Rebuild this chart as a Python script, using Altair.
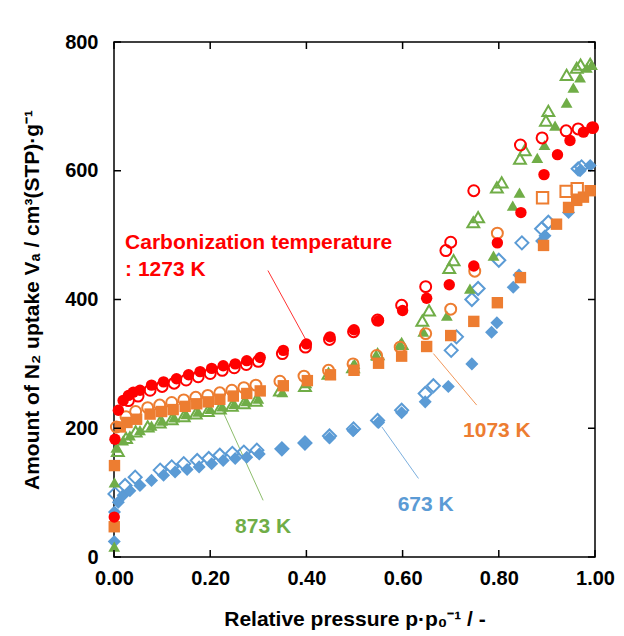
import altair as alt
import pandas as pd

# ---------------- data ----------------
# 1273 K
x_1273_ads = [0.0005, 0.002, 0.009, 0.019, 0.030, 0.040, 0.054, 0.078, 0.103, 0.13, 0.155, 0.179, 0.203, 0.227, 0.252, 0.276, 0.304, 0.352, 0.400, 0.449, 0.499, 0.55, 0.60, 0.65, 0.697, 0.748, 0.797, 0.846, 0.894, 0.922, 0.948, 0.976, 0.995]
y_1273_ads = [62, 183, 228, 243, 251, 256, 259, 267, 272, 277, 283, 288, 293, 297, 300, 305, 310, 321, 331, 342, 353, 367, 383, 402, 423, 452, 488, 535, 594, 625, 647, 660, 667]
x_1273_des = [0.995, 0.965, 0.94, 0.89, 0.845, 0.748, 0.70, 0.69, 0.648, 0.598, 0.548, 0.498, 0.448, 0.398, 0.35, 0.30, 0.275, 0.25, 0.225, 0.20, 0.175, 0.15, 0.125, 0.10, 0.075, 0.05, 0.03]
y_1273_des = [667, 665, 662, 651, 640, 569, 489, 476, 420, 391, 368, 350, 338, 326, 316, 304, 299, 294, 290, 285, 280, 275, 270, 265, 259, 250, 243]

# 1073 K
x_1073_ads = [0.0005, 0.001, 0.013, 0.027, 0.047, 0.075, 0.099, 0.123, 0.148, 0.172, 0.196, 0.22, 0.248, 0.276, 0.304, 0.352, 0.402, 0.45, 0.499, 0.55, 0.598, 0.65, 0.70, 0.748, 0.797, 0.845, 0.893, 0.92, 0.945, 0.962, 0.976, 0.99]
y_1073_ads = [47, 142, 202, 209, 214, 222, 226, 229, 234, 238, 241, 245, 250, 254, 258, 266, 274, 283, 290, 301, 312, 327, 344, 366, 395, 434, 484, 517, 543, 554, 559, 569]
x_1073_des_circ = [0.797, 0.75, 0.70, 0.648, 0.595, 0.546, 0.497, 0.446, 0.395, 0.345, 0.295, 0.27, 0.245, 0.22, 0.195, 0.17, 0.145, 0.12, 0.095, 0.07, 0.045, 0.025, 0.005]
y_1073_des_circ = [503, 444, 385, 347, 326, 313, 300, 290, 281, 273, 267, 263, 259, 255, 251, 248, 244, 240, 236, 232, 226, 218, 202]
x_1073_des_sq = [0.963, 0.94, 0.891]
y_1073_des_sq = [572, 568, 558]

# 873 K
x_873_ads = [0.0005, 0.001, 0.005, 0.019, 0.033, 0.054, 0.078, 0.10, 0.125, 0.15, 0.175, 0.20, 0.225, 0.25, 0.275, 0.30, 0.35, 0.40, 0.45, 0.50, 0.546, 0.595, 0.643, 0.692, 0.74, 0.789, 0.829, 0.843, 0.88, 0.895, 0.917, 0.941, 0.955, 0.969, 0.983, 0.993]
y_873_ads = [16, 116, 170, 181, 189, 197, 204, 212, 217, 222, 226, 230, 234, 238, 242, 246, 256, 270, 284, 300, 313, 331, 350, 375, 417, 468, 546, 566, 620, 640, 670, 706, 729, 745, 760, 765]
x_873_des = [0.99, 0.97, 0.962, 0.941, 0.903, 0.898, 0.854, 0.844, 0.806, 0.796, 0.757, 0.747, 0.706, 0.697, 0.655, 0.641, 0.598, 0.548, 0.497, 0.446, 0.397, 0.345, 0.295, 0.27, 0.245, 0.22, 0.195, 0.17, 0.145, 0.12, 0.095, 0.07, 0.045, 0.025, 0.008]
y_873_des = [766, 765, 760, 749, 693, 678, 632, 619, 582, 574, 528, 520, 461, 449, 383, 367, 331, 315, 295, 285, 266, 259, 243, 239, 235, 231, 227, 223, 219, 214, 209, 203, 195, 185, 165]

# 673 K
x_673_ads = [0.0005, 0.001, 0.009, 0.019, 0.033, 0.054, 0.078, 0.103, 0.127, 0.152, 0.177, 0.203, 0.227, 0.252, 0.276, 0.302, 0.349, 0.397, 0.448, 0.497, 0.55, 0.598, 0.647, 0.695, 0.744, 0.785, 0.796, 0.83, 0.842, 0.889, 0.896, 0.945, 0.969, 0.99]
y_673_ads = [24, 70, 85, 96, 103, 111, 119, 127, 132, 136, 140, 145, 150, 153, 155, 160, 168, 176, 185, 196, 209, 224, 241, 265, 300, 349, 364, 419, 438, 491, 499, 535, 600, 608]
x_673_des = [0.972, 0.965, 0.903, 0.889, 0.848, 0.80, 0.757, 0.744, 0.712, 0.701, 0.664, 0.647, 0.598, 0.548, 0.498, 0.448, 0.397, 0.349, 0.297, 0.27, 0.246, 0.22, 0.197, 0.173, 0.145, 0.12, 0.096, 0.044, 0.023, 0.002]
y_673_des = [606, 603, 520, 510, 488, 461, 417, 400, 342, 321, 266, 254, 228, 212, 199, 188, 177, 168, 166, 163, 161, 158, 153, 150, 145, 140, 135, 124, 111, 98]

# axis ticks
x_ticks = [0.0, 0.2, 0.4, 0.6, 0.8, 1.0]
y_ticks = [0, 200, 400, 600, 800]

# annotations
label_text = ["Carbonization temperature", ": 1273 K", "1073 K", "873 K", "673 K"]
label_x = [0.023, 0.023, 0.796, 0.31, 0.648]
label_y = [479, 436, 186, 38, 71]
label_color = ["#FF0000", "#FF0000", "#ED7D31", "#70AD47", "#5B9BD5"]
lead_x1 = [0.320, 0.664, 0.224, 0.557]
lead_y1 = [445, 316, 230, 202]
lead_x2 = [0.400, 0.754, 0.31, 0.633]
lead_y2 = [336, 236, 88, 122]
lead_color = ["#FF0000", "#ED7D31", "#70AD47", "#5B9BD5"]

RED, ORANGE, GREEN, BLUE = "#FF0000", "#ED7D31", "#70AD47", "#5B9BD5"
FONT = "Liberation Sans, Arial, sans-serif"

W, H = 481, 515

xs = alt.Scale(domain=[0, 1], nice=False, zero=False)
ys = alt.Scale(domain=[0, 800], nice=False)

x_axis = alt.Axis(values=x_ticks, format=".2f", title="Relative pressure p·p₀⁻¹ / -",
                  ticks=False, domain=False, grid=False, labelPadding=11,
                  titlePadding=20, labelFlush=False)
y_axis = alt.Axis(values=y_ticks, format="d", title="Amount of N₂ uptake Vₐ / cm³(STP)·g⁻¹",
                  ticks=False, domain=False, grid=False, labelPadding=16,
                  titlePadding=22)

def X():
    return alt.X("x:Q", scale=xs, axis=x_axis)

def Y():
    return alt.Y("y:Q", scale=ys, axis=y_axis)

series = [
    (x_673_des, y_673_des, "diamond", BLUE, False, 170),
    (x_673_ads, y_673_ads, "diamond", BLUE, True, 170),
    (x_873_des, y_873_des, "triangle-up", GREEN, False, 140),
    (x_873_ads, y_873_ads, "triangle-up", GREEN, True, 140),
    (x_1073_des_circ, y_1073_des_circ, "circle", ORANGE, False, 120),
    (x_1073_des_sq, y_1073_des_sq, "square", ORANGE, False, 130),
    (x_1073_ads, y_1073_ads, "square", ORANGE, True, 130),
    (x_1273_des, y_1273_des, "circle", RED, False, 120),
    (x_1273_ads, y_1273_ads, "circle", RED, True, 130),
]

layers = []
for xv, yv, shp, col, filled, sz in series:
    df = pd.DataFrame({"x": xv, "y": yv})
    if filled:
        m = alt.Chart(df).mark_point(shape=shp, filled=True, color=col, size=sz, opacity=1)
    else:
        m = alt.Chart(df).mark_point(shape=shp, filled=False, color=col, size=sz, strokeWidth=2, opacity=1)
    layers.append(m.encode(x=X(), y=Y()))

# leader lines
lead_df = pd.DataFrame({"x": lead_x1, "y": lead_y1, "x2": lead_x2, "y2": lead_y2, "c": lead_color})
leads = alt.Chart(lead_df).mark_rule(strokeWidth=1, opacity=0.8).encode(
    x=X(), y=Y(), x2="x2:Q", y2="y2:Q", color=alt.Color("c:N", scale=None))

# labels
lab_df = pd.DataFrame({"x": label_x, "y": label_y, "t": label_text, "c": label_color})
lab_left = alt.Chart(lab_df.iloc[:2]).mark_text(align="left", baseline="alphabetic", font=FONT,
                                                 fontSize=21, fontWeight="bold").encode(
    x=X(), y=Y(), text="t:N", color=alt.Color("c:N", scale=None))
lab_center = alt.Chart(lab_df.iloc[2:]).mark_text(align="center", baseline="alphabetic", font=FONT,
                                                   fontSize=21, fontWeight="bold").encode(
    x=X(), y=Y(), text="t:N", color=alt.Color("c:N", scale=None))

# inward ticks on all four sides
xt_df = pd.DataFrame({"x": x_ticks})
yt_df = pd.DataFrame({"y": y_ticks})
TL = 7
tick_b = alt.Chart(xt_df).mark_rule(color="black", strokeWidth=1.5).encode(
    x=X(), y=alt.value(H), y2=alt.value(H - TL))
tick_t = alt.Chart(xt_df).mark_rule(color="black", strokeWidth=1.5).encode(
    x=X(), y=alt.value(0), y2=alt.value(TL))
tick_l = alt.Chart(yt_df).mark_rule(color="black", strokeWidth=1.5).encode(
    y=Y(), x=alt.value(0), x2=alt.value(TL))
tick_r = alt.Chart(yt_df).mark_rule(color="black", strokeWidth=1.5).encode(
    y=Y(), x=alt.value(W), x2=alt.value(W - TL))

chart = alt.layer(
    leads, lab_left, lab_center, *layers, tick_b, tick_t, tick_l, tick_r
).properties(
    width=W, height=H,
    autosize=alt.AutoSizeParams(type="none"),
    padding={"left": 114, "top": 42, "right": 29, "bottom": 79},
    background="white",
).configure_view(
    stroke="black", strokeWidth=1.5
).configure_axis(
    labelFont=FONT, labelFontSize=20, labelFontWeight="bold", labelColor="black",
    titleFont=FONT, titleFontSize=21, titleFontWeight="bold", titleColor="black",
)

chart.save("out.html", embed_options={"renderer": "svg", "actions": False})
